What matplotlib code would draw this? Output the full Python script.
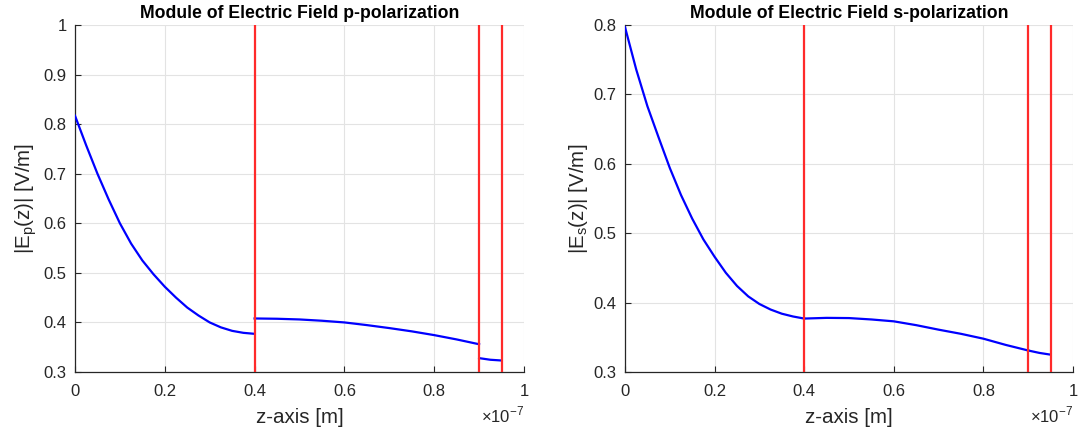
import matplotlib
matplotlib.use("Agg")
import matplotlib.pyplot as plt
from matplotlib.ticker import FuncFormatter, MultipleLocator
import numpy as np

plt.rcParams['font.family'] = ['Liberation Sans', 'DejaVu Sans']
plt.rcParams['mathtext.fontset'] = 'custom'
plt.rcParams['mathtext.rm'] = 'Liberation Sans'

SCALE = 1e-7

# ---- p-polarization (z in units of 1e-7 m) ----
p_z1 = [0.0, 0.025, 0.05, 0.075, 0.1, 0.125, 0.15, 0.175, 0.2, 0.225, 0.25,
        0.275, 0.3, 0.325, 0.35, 0.375, 0.4]
p_e1 = [0.817, 0.757, 0.700, 0.648, 0.600, 0.559, 0.525, 0.497, 0.472, 0.450,
        0.430, 0.414, 0.400, 0.390, 0.383, 0.379, 0.377]
p_z2 = [0.4, 0.45, 0.5, 0.55, 0.6, 0.65, 0.7, 0.75, 0.8, 0.85, 0.9]
p_e2 = [0.408, 0.4074, 0.406, 0.4034, 0.400, 0.3946, 0.3886, 0.382, 0.3744,
        0.3657, 0.356]
p_z3 = [0.9, 0.925, 0.95]
p_e3 = [0.328, 0.3247, 0.3232]

# ---- s-polarization ----
s_z1 = [0.0, 0.025, 0.05, 0.075, 0.1, 0.125, 0.15, 0.175, 0.2, 0.225, 0.25,
        0.275, 0.3, 0.325, 0.35, 0.375, 0.4]
s_e1 = [0.797, 0.736, 0.683, 0.638, 0.594, 0.555, 0.521, 0.491, 0.466, 0.443,
        0.424, 0.409, 0.398, 0.390, 0.384, 0.380, 0.377]
s_z2 = [0.4, 0.45, 0.5, 0.55, 0.6, 0.65, 0.7, 0.75, 0.8, 0.85, 0.9]
s_e2 = [0.377, 0.378, 0.3777, 0.3757, 0.373, 0.3675, 0.361, 0.355, 0.348,
        0.339, 0.331]
s_z3 = [0.9, 0.925, 0.95]
s_e3 = [0.331, 0.3275, 0.325]

interfaces = [0.4, 0.9, 0.95]

titles = ['Module of Electric Field p-polarization',
          'Module of Electric Field s-polarization']
ylabels = ['|E$_\\mathregular{p}$(z)| [V/m]', '|E$_\\mathregular{s}$(z)| [V/m]']
xlabel = 'z-axis [m]'
ylims = [(0.3, 1.0), (0.3, 0.8)]

fig = plt.figure(figsize=(10.78, 4.33), dpi=100)
ax1 = fig.add_axes([75/1078, 1-372/433, 449/1078, 347/433])
ax2 = fig.add_axes([625/1078, 1-372/433, 448/1078, 347/433])

series = [
    [(p_z1, p_e1), (p_z2, p_e2), (p_z3, p_e3)],
    [(s_z1, s_e1), (s_z2, s_e2), (s_z3, s_e3)],
]

fmt = FuncFormatter(lambda v, pos: '%g' % round(v / SCALE, 6))
yfmt = FuncFormatter(lambda v, pos: '%g' % round(v, 6))

for ax, segs, title, ylab, ylim in zip([ax1, ax2], series, titles, ylabels, ylims):
    for z, e in segs:
        ax.plot(np.array(z) * SCALE, e, color='#0000FF', lw=1.6, zorder=3,
                solid_joinstyle='round')
    for zi in interfaces:
        ax.axvline(zi * SCALE, color='#FF2A2A', lw=1.6, zorder=4)
    ax.set_xlim(0, 1e-7)
    ax.set_ylim(*ylim)
    ax.xaxis.set_major_locator(MultipleLocator(0.2e-7))
    ax.yaxis.set_major_locator(MultipleLocator(0.1))
    ax.xaxis.set_major_formatter(fmt)
    ax.yaxis.set_major_formatter(yfmt)
    ax.grid(True, color='#E3E3E3', lw=0.8, zorder=0)
    ax.set_axisbelow(True)
    for s in ['top', 'right']:
        ax.spines[s].set_visible(False)
    for s in ['left', 'bottom']:
        ax.spines[s].set_color('#262626')
        ax.spines[s].set_linewidth(0.9)
    ax.tick_params(direction='in', length=4, width=0.8, color='#262626',
                   labelcolor='#262626', labelsize=12)
    ax.tick_params(axis='x', pad=9)
    ax.tick_params(axis='y', pad=6)
    ax.set_title(title, fontsize=12.7, fontweight='bold', color='#000000', pad=5)
    ax.set_xlabel(xlabel, fontsize=14.8, color='#262626', labelpad=6)
    ax.set_ylabel(ylab, fontsize=14.8, color='#262626', labelpad=3)
    ax.text(1.0, -0.095, '$\\times$10$^{-7}$', transform=ax.transAxes,
            ha='right', va='top', fontsize=12, color='#262626')

fig.savefig('out.png', dpi=100, facecolor='white')
